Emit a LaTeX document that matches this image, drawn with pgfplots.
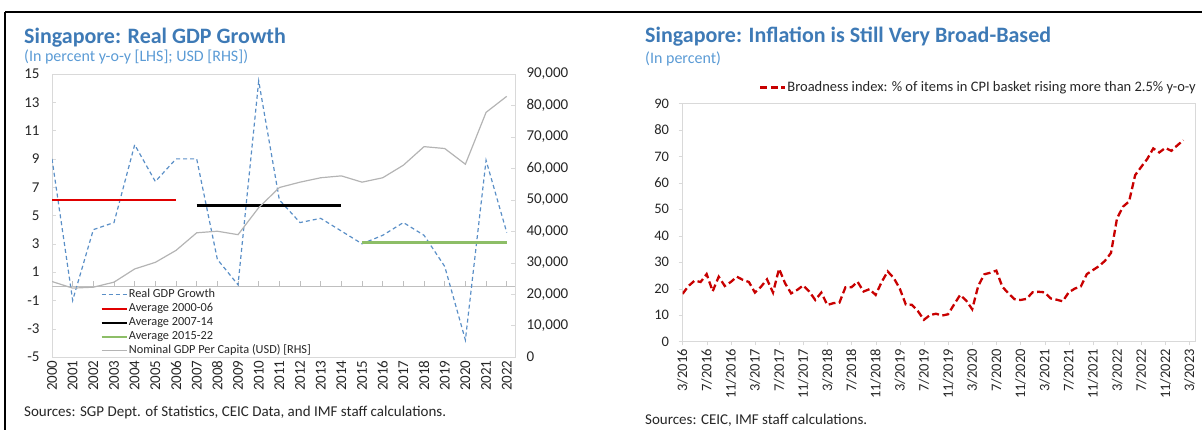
\documentclass[border=0pt]{standalone}
\usepackage{fontspec}
\setmainfont{Carlito}
\usepackage{pgfplots}
\pgfplotsset{compat=1.18}
\definecolor{titleblue}{HTML}{3E7AB6}
\definecolor{subblue}{HTML}{5B9BD5}
\definecolor{gdpblue}{HTML}{5A8FC7}
\definecolor{avgred}{HTML}{E00000}
\definecolor{avggreen}{HTML}{8DBE67}
\definecolor{nomgray}{HTML}{B4B4B4}
\definecolor{framegray}{HTML}{D9D9D9}
\definecolor{zerogray}{HTML}{BFBFBF}
\definecolor{txt}{HTML}{262626}
\definecolor{bredd}{HTML}{C80000}
\begin{document}
\begin{tikzpicture}[x=1pt,y=1pt]
\path[use as bounding box] (0,0) rectangle (1202,430);
\draw[line width=2.5pt] (5,418) -- (1202,418);
\draw[line width=2.5pt] (5,418) -- (5,0);
% titles
\node[anchor=west, font=\fontsize{22}{26}\selectfont\bfseries, text=titleblue, inner sep=0] at (24,392) {Singapore: Real GDP Growth};
\node[anchor=west, font=\fontsize{16}{19}\selectfont, text=subblue, inner sep=0] at (24,373) {(In percent y-o-y [LHS]; USD [RHS])};
\node[anchor=west, font=\fontsize{22}{26}\selectfont\bfseries, text=titleblue, inner sep=0] at (645,393) {Singapore: Inflation is Still Very Broad-Based};
\node[anchor=west, font=\fontsize{16}{19}\selectfont, text=subblue, inner sep=0] at (645,371) {(In percent)};
\node[anchor=west, font=\fontsize{15}{18}\selectfont, text=txt, inner sep=0] at (24,17) {Sources: SGP Dept. of Statistics, CEIC Data, and IMF staff calculations.};
\node[anchor=west, font=\fontsize{15}{18}\selectfont, text=txt, inner sep=0] at (645,10) {Sources: CEIC, IMF staff calculations.};

% ---------- left chart, LHS ----------
\begin{axis}[
  at={(52pt,73pt)}, anchor=south west, scale only axis,
  width=463pt, height=283pt,
  xmin=0, xmax=22.4, ymin=-5, ymax=15,
  axis line style={framegray, line width=0.8pt},
  xtick={0,...,22},
  xticklabels={2000,2001,2002,2003,2004,2005,2006,2007,2008,2009,2010,2011,2012,2013,2014,2015,2016,2017,2018,2019,2020,2021,2022},
  x tick label style={rotate=90, anchor=east},
  major x tick style={draw=none},
  xtick pos=bottom,
  ytick={-5,-3,...,15},
  ytick pos=left,
  y tick style={framegray},
  tick align=inside,
  major tick length=4pt,
  yticklabel style={xshift=-9pt},
  /pgf/number format/assume math mode=true,
  tick label style={font=\fontsize{15}{18}\selectfont, text=txt},
  legend style={at={(0.104,0.245)}, anchor=north west, draw=none, fill=none,
    font=\fontsize{12.3}{14}\selectfont, text=txt, row sep=0pt, inner sep=0pt,
    nodes={inner sep=1pt, text height=9pt, text depth=3pt}},
  legend cell align=left,
  legend image code/.code={\draw[#1] (0pt,0pt) -- (25pt,0pt);},
]
\draw[zerogray, line width=0.8pt] (axis cs:0,0) -- (axis cs:22.4,0);
\pgfplotsinvokeforeach{1,...,22}{\draw[zerogray, line width=0.8pt] (axis cs:#1,0) -- ++(0pt,5pt);}
\addplot[gdpblue, line width=1.2pt, dash pattern=on 4pt off 3pt] coordinates {
(0,9.0) (1,-1.0) (2,4.0) (3,4.5) (4,10.0) (5,7.4) (6,9.0) (7,9.0) (8,1.9) (9,0.1)
(10,14.5) (11,6.1) (12,4.5) (13,4.8) (14,3.9) (15,3.0) (16,3.6) (17,4.5) (18,3.6)
(19,1.4) (20,-3.8) (21,8.9) (22,3.8)};
\addplot[avgred, line width=2.5pt] coordinates {(0,6.1) (6,6.1)};
\addplot[black, line width=2.5pt] coordinates {(7,5.7) (14,5.7)};
\addplot[avggreen, line width=2.5pt] coordinates {(15,3.1) (22,3.1)};
\addlegendimage{nomgray, line width=1.2pt}
\legend{Real GDP Growth, Average 2000-06, Average 2007-14, Average 2015-22, Nominal GDP Per Capita (USD) [RHS]}
\end{axis}

% ---------- left chart, RHS ----------
\begin{axis}[
  at={(52pt,73pt)}, anchor=south west, scale only axis,
  width=463pt, height=283pt,
  xmin=0, xmax=22.4, ymin=0, ymax=90000,
  axis x line=none, axis y line*=right,
  y axis line style={draw=none},
  ytick={0,10000,...,90000},
  scaled y ticks=false,
  y tick style={framegray},
  tick align=inside,
  major tick length=4pt,
  /pgf/number format/assume math mode=true,
  /pgf/number format/1000 sep={,},
  yticklabel style={anchor=west, xshift=8pt, font=\fontsize{15}{18}\selectfont, text=txt},
]
\addplot[nomgray, line width=1.2pt] coordinates {
(0,24000) (1,21900) (2,22200) (3,23800) (4,28000) (5,30100) (6,33900) (7,39500)
(8,40000) (9,38900) (10,47500) (11,53900) (12,55600) (13,57000) (14,57600)
(15,55600) (16,57000) (17,61000) (18,66900) (19,66300) (20,61300) (21,77800) (22,82900)};
\end{axis}

% ---------- right chart ----------
\begin{axis}[
  at={(682.5pt,88.5pt)}, anchor=south west, scale only axis,
  width=513pt, height=238pt,
  xmin=0, xmax=85, ymin=0, ymax=90,
  axis line style={framegray, line width=0.8pt},
  ytick={0,10,...,90},
  xtick={0,4,...,84},
  xticklabels={3/2016,7/2016,11/2016,3/2017,7/2017,11/2017,3/2018,7/2018,11/2018,3/2019,7/2019,11/2019,3/2020,7/2020,11/2020,3/2021,7/2021,11/2021,3/2022,7/2022,11/2022,3/2023},
  x tick label style={rotate=90, anchor=east},
  xtick pos=bottom, ytick pos=left,
  tick style={framegray},
  tick align=outside,
  major tick length=4pt,
  yticklabel style={xshift=-6pt},
  /pgf/number format/assume math mode=true,
  tick label style={font=\fontsize{14.5}{17}\selectfont, text=txt},
  legend style={at={(1.003,1.067)}, anchor=east, draw=none, fill=none,
    font=\fontsize{14.5}{17}\selectfont, text=txt, inner sep=0pt,
    nodes={inner sep=1pt}},
  legend image code/.code={\draw[#1] (0pt,0pt) -- (25pt,0pt);},
]
\addplot[bredd, line width=2.3pt, dash pattern=on 7pt off 3.5pt] coordinates {
(0,18) (1,21) (2,23) (3,22.5) (4,25.5) (5,19) (6,24.5) (7,21) (8,22.5) (9,24.5)
(10,23.3) (11,22.5) (12,18.5) (13,20.7) (14,23.5) (15,18.5) (16,27.5) (17,22)
(18,18.2) (19,19.5) (20,21.2) (21,18.9) (22,15.7) (23,18.5) (24,13.8) (25,14.5)
(26,14.7) (27,20.5) (28,20.5) (29,22.6) (30,18.9) (31,19.8) (32,17.6) (33,22.5)
(34,26.5) (35,24) (36,20) (37,14) (38,13.9) (39,11.5) (40,8.2) (41,10) (42,10.5)
(43,9.8) (44,10.3) (45,14) (46,17.6) (47,15.5) (48,12.2) (49,21) (50,25.4)
(51,26) (52,26.8) (53,20.7) (54,18.2) (55,16) (56,15.7) (57,16.1) (58,18.6)
(59,18.8) (60,18.6) (61,16.3) (62,15.8) (63,15.2) (64,18.6) (65,20) (66,20.8)
(67,25.5) (68,27) (69,28.5) (70,30.5) (71,33.5) (72,46.6) (73,51) (74,53)
(75,62.9) (76,66) (77,69) (78,73) (79,71.5) (80,73.2) (81,72.1) (82,74.2) (83,76.1)};
\legend{Broadness index: \% of items in CPI basket rising more than 2.5\% y-o-y}
\end{axis}
\end{tikzpicture}
\end{document}
